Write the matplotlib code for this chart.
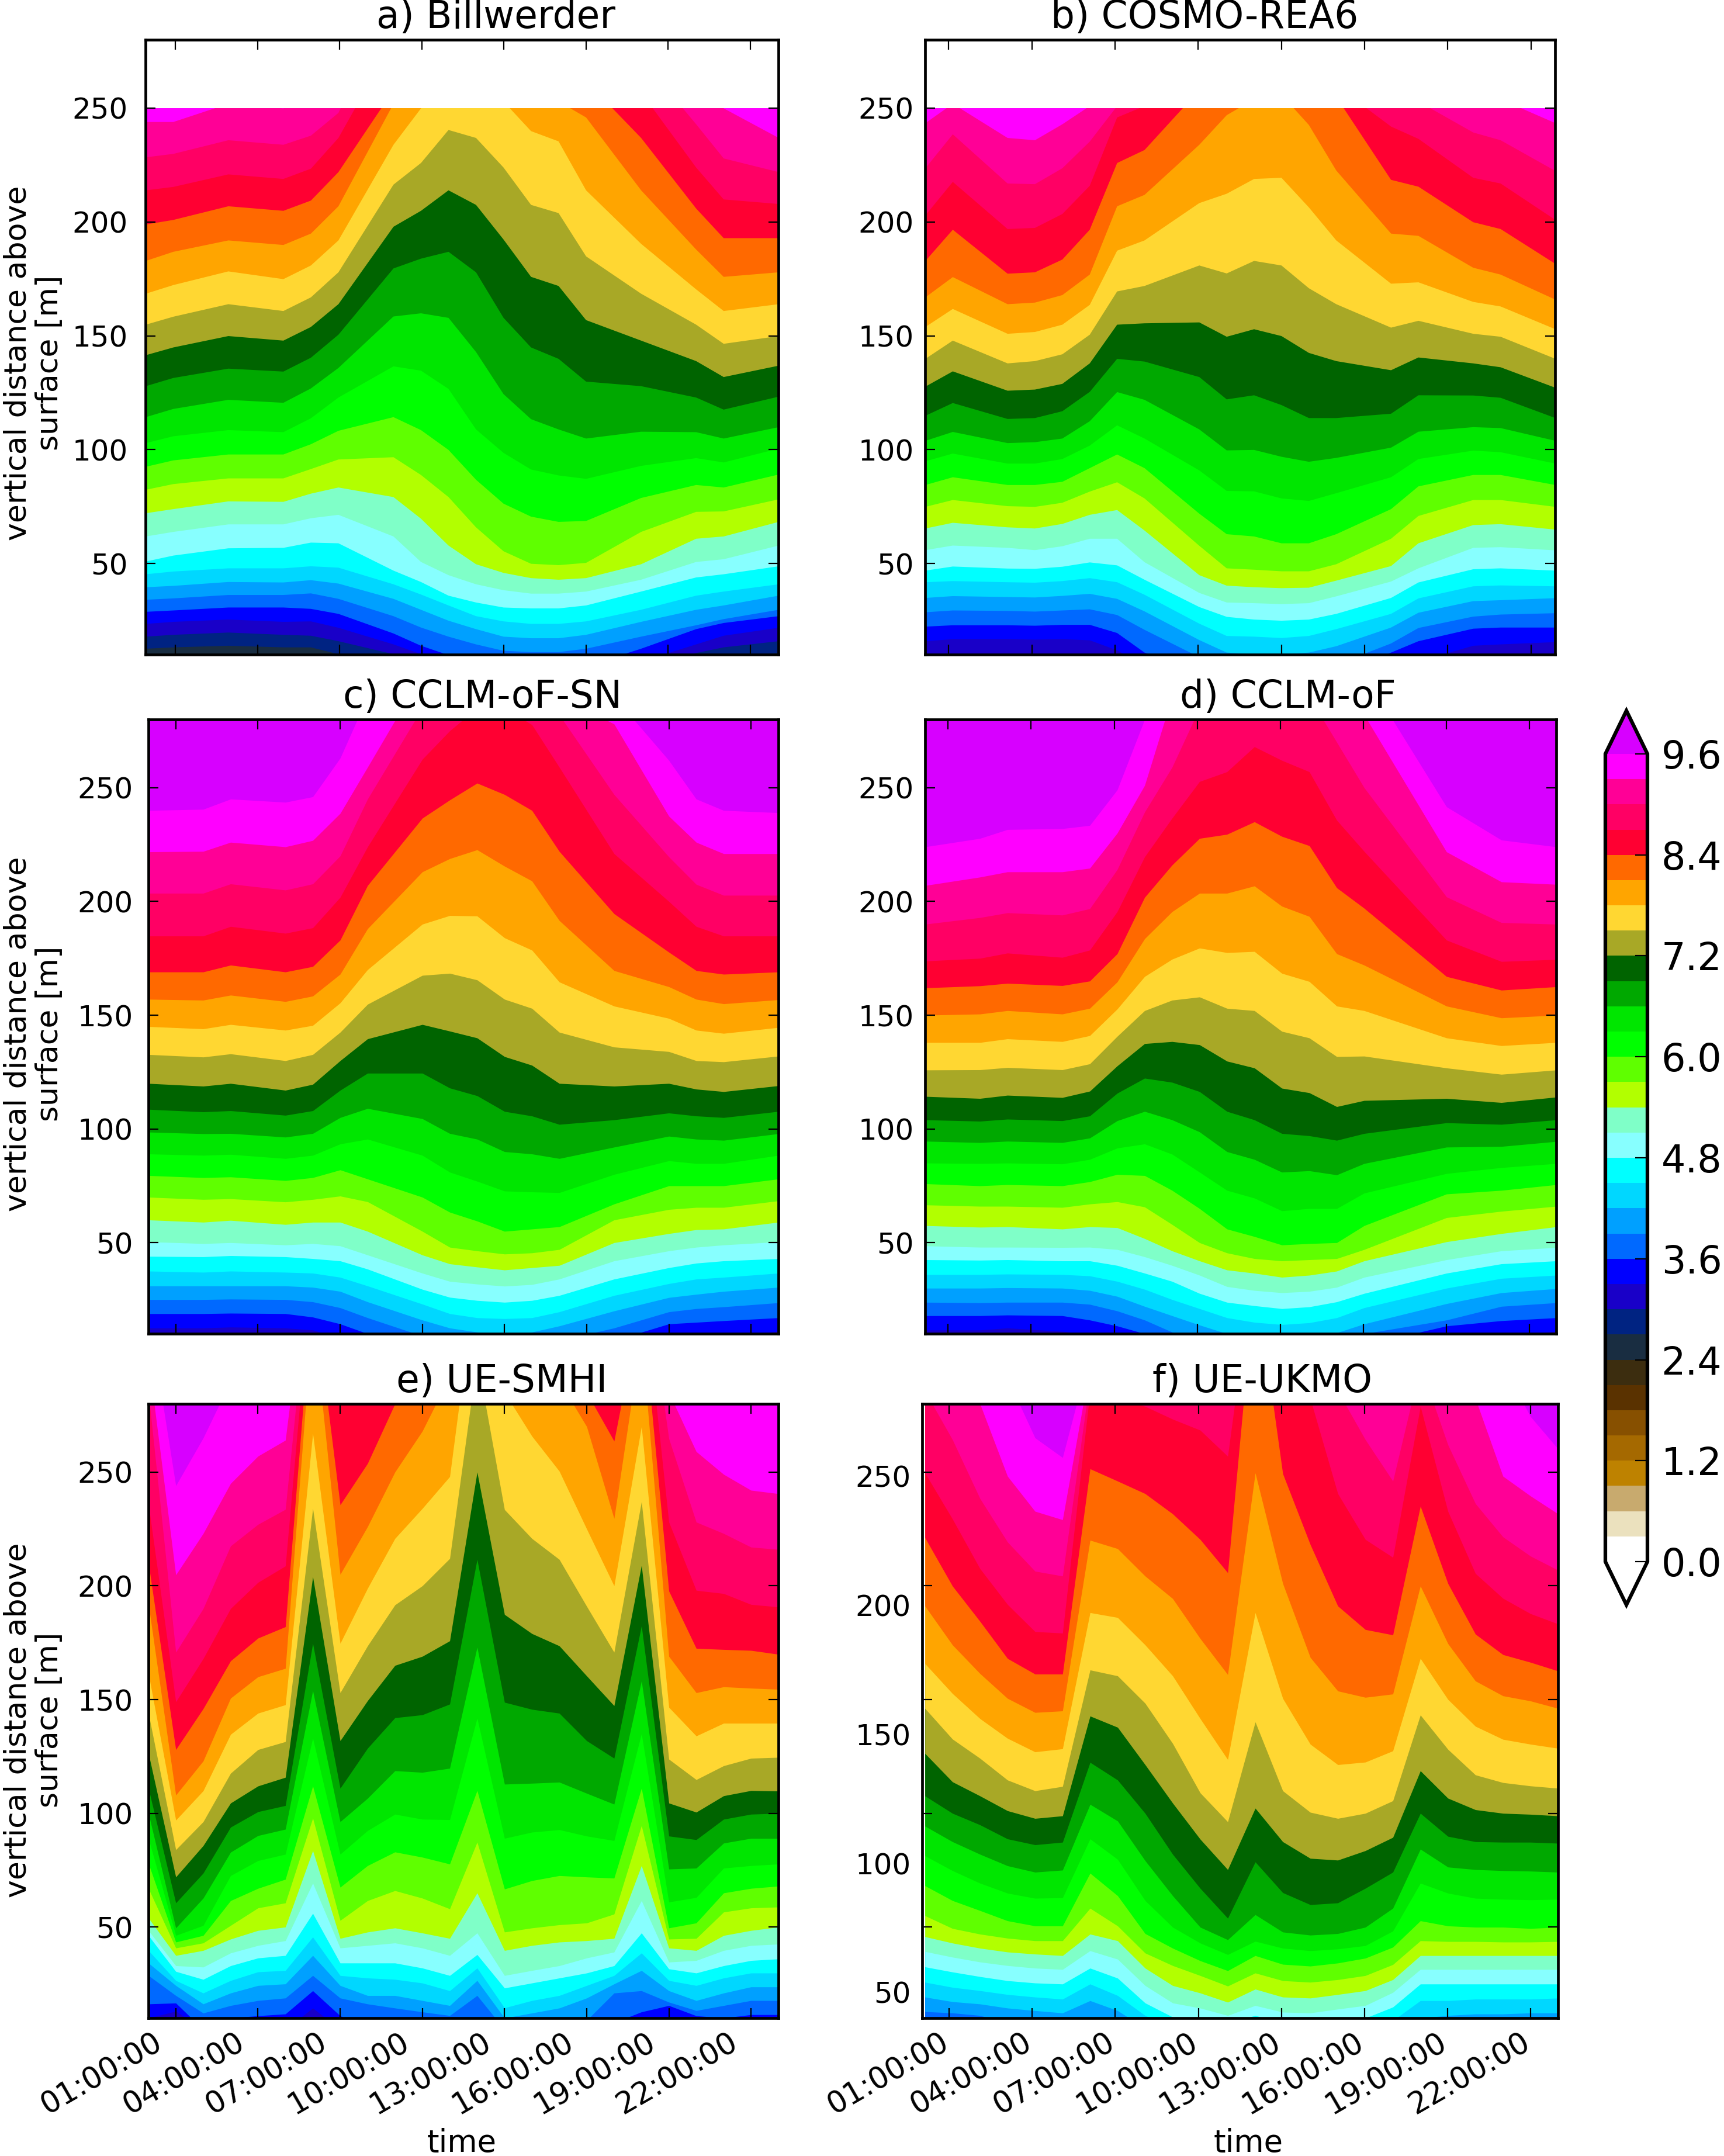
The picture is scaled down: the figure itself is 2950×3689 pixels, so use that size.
import numpy as np
import matplotlib
matplotlib.use('Agg')
import matplotlib.pyplot as plt
from matplotlib.colors import ListedColormap, BoundaryNorm
from matplotlib.colorbar import ColorbarBase
from matplotlib.patches import Rectangle
from matplotlib.transforms import ScaledTranslation

# wind speed classes of the colour bar (m/s)
cbar_levels = [round(0.3 * i, 1) for i in range(33)]
cbar_ticks = [0.0, 1.2, 2.4, 3.6, 4.8, 6.0, 7.2, 8.4, 9.6]
band_colors = ['#ffffff', '#ebe1be', '#c8aa6e', '#be8200', '#a56900', '#875000', '#5a3200', '#3c2d0f',
               '#192d41', '#002382', '#1900c8', '#0000ff', '#0069ff', '#00a0ff', '#00d7ff', '#00ffff',
               '#87ffff', '#7fffc8', '#b2ff00', '#5fff00', '#00ff00', '#00e600', '#00a800', '#006400',
               '#a8a826', '#ffd732', '#ffa500', '#ff6900', '#ff0032', '#ff0064', '#ff0096', '#ff00ff']
over_color = '#d700ff'

hour_labels = ['01:00:00', '04:00:00', '07:00:00', '10:00:00', '13:00:00', '16:00:00', '19:00:00', '22:00:00']
hour_ticks = [1, 4, 7, 10, 13, 16, 19, 22]
height_ticks = [50, 100, 150, 200, 250]

# height (m) of each isotach, one row per wind speed, one column per hour
a_hours = [0, 1, 3, 5, 6, 7, 9, 10, 11, 12, 13, 14, 15, 16, 18, 20, 21, 23]
a_first_level = 2.7
a_heights = [
    [12.7, 13.3, 14, 13.3, 13.3, 10.3, 7, 4, 2, 1, 1, 1, 1, 1, 2, 5, 9, 10.8],
    [18, 18.8, 19.8, 18.8, 18.4, 16, 10.3, 7, 4, 2, 1, 1, 1, 2, 4, 10.8, 13.3, 16],
    [23.6, 24.5, 25.5, 24.5, 24.7, 21.9, 14.6, 10.3, 7, 5, 4, 3.6, 3.6, 5, 7, 14.6, 18.4, 21.9],
    [28.9, 29.5, 30.8, 30.8, 30.2, 28, 19.4, 14, 9.9, 6, 4, 3, 3, 5, 12.7, 21.3, 24, 27],
    [34.2, 34.8, 36.3, 36.3, 37, 34.6, 27, 22, 18, 14.6, 11.8, 11.2, 11.2, 12.7, 18, 23, 25.7, 29.8],
    [39.7, 40.3, 42, 41.8, 42.8, 41.3, 34.6, 29.8, 25, 21.3, 18, 17.3, 17.3, 18.8, 24.5, 29.8, 31.7, 36],
    [45.4, 46.6, 48, 48, 48.9, 48.3, 41, 36.5, 31.7, 27, 24.7, 23.6, 23.6, 24.7, 29.8, 36, 37.8, 41],
    [51, 53.6, 56.8, 57, 59.3, 59, 47, 42, 36, 33, 30.8, 30.4, 30.4, 31.7, 37.8, 44, 45.4, 48.9],
    [62, 64, 67.3, 67.3, 70, 71.5, 62, 50.8, 45, 41, 38.4, 36.9, 36.9, 37.8, 43, 50.8, 52, 58],
    [72.2, 74, 77.4, 77.2, 80.8, 83.5, 79.3, 69.8, 58, 49.8, 46, 43.7, 43, 43.7, 49.8, 61, 62, 68.4],
    [82.5, 85, 87.5, 87.5, 91.6, 95.8, 96.8, 89, 79.3, 66, 55.5, 50, 49.4, 50.4, 64, 72.8, 73, 78.3],
    [92.6, 95.4, 98, 98, 102.5, 108.4, 114.4, 108.7, 100, 86.9, 76.4, 70.7, 68.4, 68.8, 78.9, 84.6, 83.5, 89.2],
    [103, 106, 108.7, 107.8, 113.9, 123, 136.7, 134.8, 126.8, 109, 98.7, 91.4, 88.8, 87.3, 93, 96.4, 94.5, 100.6],
    [114.4, 118, 122, 120.7, 127, 136, 158.6, 160, 158, 143, 124.5, 113.5, 109, 105, 108, 107.8, 105, 110],
    [128, 131.6, 135.7, 134.4, 140.5, 150.6, 179.7, 184, 187, 178, 158, 145, 140, 130, 128, 123, 117.7, 123.4],
    [141.6, 145, 150, 148, 154, 164, 198, 205, 214, 207.6, 192.4, 176, 172, 157, 148, 139, 132, 137],
    [155, 158.5, 164, 161, 167, 178, 216.5, 226, 240.5, 237, 224, 207.6, 204, 185, 168.6, 155, 146.6, 150],
    [168.6, 172.4, 178.4, 175, 181, 192, 234, 250, 260, 262, 253, 240, 235.5, 214, 190.5, 170.5, 161, 164],
    [183, 187, 192, 190, 195, 207, 252, 262, 268, 268, 262, 258, 253, 246, 214, 188, 176, 178],
    [199, 201, 207, 205, 209.5, 222, 258, 270, 275, 285, 280, 275, 270, 262, 237, 206, 193, 193],
    [214, 215.5, 221, 219, 223.5, 237, 280, 295, 300, 300, 295, 290, 282, 275, 257, 224, 210, 208],
    [228.5, 230, 236, 234, 238, 248, 300, 315, 320, 320, 315, 310, 305, 295, 272, 243, 228, 222],
    [244, 244, 252, 250, 256, 270, 320, 340, 350, 350, 345, 340, 335, 325, 300, 265, 250, 237],
]

b_hours = [0, 1, 3, 4, 5, 6, 7, 8, 10, 11, 12, 13, 14, 15, 17, 18, 20, 21, 23]
b_first_level = 3.3
b_heights = [
    [16, 16.9, 16.9, 16.7, 16.9, 16.4, 12, 5, 1, 1, 1, 1, 1, 1, 3, 7, 14, 14.6, 15.6],
    [22.4, 23, 23, 22.8, 23.2, 23.2, 19.6, 11, 3, 2, 1, 1, 1, 2, 11, 16, 21.5, 22, 22],
    [28.7, 29.5, 29.3, 29, 29.5, 30, 27.5, 21, 9, 5, 4, 4, 3.9, 5.7, 15, 21.8, 26.8, 27.7, 28.3],
    [35, 35.8, 35.4, 35.2, 35.9, 36.8, 34.6, 29.1, 16.5, 11, 10.2, 10.2, 11, 13.8, 22, 28.5, 33.6, 34, 34.9],
    [41.9, 42.4, 41.9, 41.7, 42.4, 43.7, 41.9, 36.4, 23.7, 18.3, 18, 17.4, 18.3, 21.3, 28, 34.8, 40.1, 40.5, 40.1],
    [47, 48.8, 47.9, 47.8, 48.7, 50.6, 49.3, 43, 31, 26.7, 25.5, 25, 25.5, 28, 35, 41.8, 47.6, 48, 47],
    [56, 58, 57, 56, 57.7, 61, 61, 50.7, 37.2, 33, 32.7, 32.3, 32.7, 35.7, 42.2, 48, 57, 57.3, 55.9],
    [65.5, 68, 66, 65.5, 67.5, 71.5, 73.6, 64.6, 45, 40.4, 39.7, 39.3, 39.5, 42.6, 49, 59, 67, 67.4, 65],
    [75, 78, 75.3, 75, 76.8, 81.7, 85.8, 78.7, 57.9, 48, 47.4, 46.7, 46.7, 49.8, 61, 71, 78, 78, 75],
    [84.6, 88, 84.6, 84.6, 86, 92, 98, 92, 72, 63, 62, 59, 59, 63, 74, 84, 89, 89, 84.6],
    [95, 98.4, 94, 94, 96, 101.9, 110.8, 105, 91, 82, 81.8, 78.7, 77.6, 81, 88, 96, 99.7, 99, 94],
    [104, 107.9, 103, 103.4, 105, 112.6, 125.4, 122, 109, 99.8, 100, 97, 94.8, 96.5, 101, 108, 110, 109.6, 104],
    [115, 120.6, 113.6, 114, 117, 125.5, 140, 138.8, 132, 122.2, 124, 119.7, 114, 114, 115.9, 124, 123.9, 122.9, 114],
    [127.8, 134.5, 126, 126.5, 129, 138, 155, 155.6, 156, 149.7, 153, 150, 142.6, 139, 135, 140.6, 138, 136.3, 127.3],
    [140, 148, 138, 139, 142, 150.6, 169.6, 172, 181, 177.5, 183, 181, 171, 164, 153.7, 156.7, 151, 149.7, 140],
    [154, 161.9, 151, 151.8, 155, 163.7, 187.5, 192, 208.4, 212.5, 219, 219.5, 206.5, 192, 173, 173.6, 165, 163, 153],
    [167, 175.9, 164, 164.7, 168, 177, 207, 212, 234, 247, 254, 256, 242.7, 222.7, 195, 194, 180, 177, 166],
    [183, 196.7, 177.4, 178, 183.6, 196.7, 226, 231.7, 258, 261, 264, 264, 262, 255, 218.6, 215.6, 200, 197, 181.7],
    [203, 217.7, 197, 197.5, 203.6, 216, 246, 251, 262, 265, 268, 268, 265, 260, 242, 236.6, 219.5, 217, 201],
    [223.7, 238.6, 217, 216.7, 223.7, 235.4, 251, 256, 268, 272, 275, 275, 272, 268, 258, 253, 239.4, 236, 222.5],
    [243.5, 252, 237, 236, 243, 251, 258, 264, 275, 278, 280, 280, 278, 275, 272, 268, 258, 254, 243.5],
]

c_hours = [0, 2, 3, 5, 6, 7, 8, 10, 11, 12, 13, 14, 15, 17, 19, 20, 21, 23]
c_first_level = 3.3
c_heights = [
    [12.5, 12.5, 12.9, 12.5, 11.6, 8, 5, 2, 2, 2, 2, 2, 2, 3, 7, 8, 9, 11],
    [18.8, 18.8, 19, 18.8, 17.3, 14.3, 10, 5, 4, 3, 3, 3, 3, 7, 14.3, 15, 15.7, 17],
    [25, 25, 25.2, 25, 24, 21.4, 17, 9, 7, 4.5, 4, 4.5, 7, 12.5, 19.6, 21, 21.8, 23.6],
    [31, 31, 31, 31, 30.4, 28.6, 24, 16, 12.5, 10.7, 10, 10.7, 13.4, 20, 25.9, 27.3, 28.6, 30.4],
    [37.5, 37, 37.5, 37, 36.6, 34.8, 31, 23, 18.8, 17, 16.6, 17, 19.6, 26.8, 32, 34, 34.8, 36.6],
    [44, 43.8, 44.3, 43.8, 43, 42, 38.4, 29.5, 26, 24.6, 23.8, 24.6, 26.8, 34, 39, 41, 42, 43],
    [50.4, 49.6, 50, 49, 49.6, 48.6, 44.6, 36.6, 33, 31.8, 30.9, 31.6, 34, 42, 46.4, 48, 49, 50.4],
    [60, 59, 59.8, 58, 59, 59, 55, 44.6, 40.7, 39.3, 38, 39, 40, 50, 54, 55.7, 56, 59],
    [70, 69, 69.3, 67.9, 69, 70.5, 68, 55, 48, 46.4, 45, 45.5, 47, 60, 64.6, 65.5, 65.5, 68.4],
    [79.5, 78.6, 78.9, 77.3, 78.6, 82, 78, 70, 63.4, 59.5, 55, 56, 57, 67, 75, 75, 75, 78],
    [89, 88.4, 88.8, 87, 88.4, 93.4, 95.5, 88.4, 81, 77, 72.7, 72.3, 72, 80, 86, 84.8, 84.8, 88.4],
    [98.6, 97.9, 98, 96.4, 98, 105, 109, 104.5, 98, 95.5, 90, 89, 87, 92, 96.8, 95.5, 95, 97.9],
    [108.6, 107.5, 108, 106, 108, 117, 124.5, 124.5, 118, 114.6, 107.7, 105.7, 102, 104, 107, 105.7, 105, 107.7],
    [120, 118.8, 120, 117, 119.6, 130, 139.6, 145.9, 143, 140, 131.8, 128, 120, 118.8, 120, 117.5, 116.4, 119],
    [132.7, 131.6, 133, 130, 132.7, 142.5, 154.8, 167.5, 168.4, 165.5, 157, 153, 142.5, 136, 134, 130, 129.5, 132],
    [145, 144, 145.9, 143.4, 145.5, 155.4, 170, 190, 193.8, 193.6, 184, 178.6, 164.6, 154, 148.6, 143.4, 142, 144.6],
    [157, 156.6, 158.8, 156, 158.4, 168, 188, 213, 218.8, 222.7, 215.5, 209, 191.6, 169.6, 162.5, 157, 155, 156.8],
    [169, 169, 172, 169, 171.4, 183, 207, 236.6, 244.6, 252, 247, 240, 222, 194.6, 177.7, 169.6, 168, 169],
    [184.8, 184.8, 189, 186, 188.4, 201.8, 224, 262.5, 275, 285, 285, 277.7, 259, 221, 200, 189, 184.8, 184.8],
    [203.6, 203.6, 207.7, 205, 207.7, 220, 245, 285, 295, 297, 292, 290, 282, 247, 219.6, 207.5, 202.7, 202.7],
    [221.8, 222, 226, 224, 226.8, 238.7, 259, 300, 310, 310, 310, 300, 290, 278, 237.5, 226, 221, 221],
    [240, 240.5, 245, 243.6, 246, 263, 290, 310, 320, 320, 320, 310, 300, 290, 262, 245, 240, 239],
]

d_hours = [0, 2, 3, 5, 6, 7, 8, 9, 10, 11, 12, 13, 14, 15, 16, 19, 21, 23]
d_first_level = 3.3
d_heights = [
    [11.6, 11.6, 12.5, 11, 9.8, 8, 5, 3, 2, 2, 2, 2, 2, 2, 3, 7, 9, 11],
    [17.9, 17.9, 18.2, 17.9, 16, 13.4, 10, 5, 3, 3, 3, 3, 3, 3, 5, 13.4, 15.7, 17],
    [23.8, 23.6, 23.8, 23.8, 22.9, 20, 16, 10.7, 5, 4, 4, 4, 4, 5, 10, 16, 22, 23.6],
    [30, 30, 30.2, 30, 29, 26.4, 22, 17.9, 13.8, 10, 9, 8, 8.5, 10.4, 14.3, 23.2, 28, 29.8],
    [36, 36, 36.2, 36, 35.4, 33, 29.5, 25, 21, 17, 15, 14, 14.8, 17, 21.4, 30, 34.3, 35.7],
    [42.5, 42.3, 42.5, 42, 42, 40, 36.6, 33, 27.7, 23.8, 22.3, 21, 21.8, 24, 27.7, 36.6, 40.7, 42],
    [48.6, 48, 48, 47.9, 48, 47, 43.8, 40, 35.7, 30.7, 29, 28, 28.6, 30.4, 34.8, 42.5, 46.4, 47.9],
    [57.5, 56.8, 57, 56, 57, 56.6, 51.8, 46.4, 42, 38, 36.6, 34.8, 35.7, 37.5, 42, 50.4, 54, 57],
    [66.6, 66, 66, 65.5, 67, 68, 65.7, 58, 50, 45.5, 43, 42, 42.5, 43, 47, 61, 63.8, 66],
    [75.9, 75, 75.5, 75, 76.8, 80, 79.5, 73, 65, 56, 52.7, 49, 49.6, 50, 57.5, 71.4, 73, 75.5],
    [85, 84.8, 85, 84.6, 86.6, 91.6, 93.4, 88.9, 81, 73, 69.6, 64, 65, 65, 71.8, 80.4, 83, 84.8],
    [94.6, 94, 94.6, 94, 96, 103.6, 107.7, 104, 98.7, 90, 86.6, 81, 81.6, 79.8, 84.8, 92, 92.3, 94.5],
    [104, 103.4, 104.3, 103.6, 105.7, 115.7, 122.3, 120.5, 116.4, 107.7, 104, 98, 97, 95, 98, 102.7, 102, 104],
    [114.3, 113.4, 114.8, 113.8, 116.6, 127.7, 137.5, 138.4, 137, 129.8, 126.8, 117.9, 115.9, 109.8, 112.5, 113.4, 111.6, 114],
    [125.9, 126, 127, 126, 128.6, 140.7, 152, 156.6, 158, 153, 152, 142.9, 140, 131.8, 132, 126.8, 124, 125.9],
    [138, 138, 139.6, 138.4, 141, 152.7, 167, 174.6, 179.5, 177.5, 178, 168.4, 164.8, 154, 152, 140, 136.6, 138],
    [150, 150.5, 152, 150.5, 153, 164.6, 183.6, 195.5, 203.6, 203.6, 206.8, 197.9, 193.4, 177, 172, 154, 148.8, 150],
    [162, 162.9, 164, 163, 165, 177, 201.8, 216, 227.7, 229.5, 235, 228.6, 224.5, 206, 197, 167, 161, 162.5],
    [173.8, 175, 177.3, 175.4, 178.6, 195.5, 219.6, 236.6, 252.7, 257, 268, 262, 257, 235.7, 222, 183, 173.6, 174.5],
    [190, 192.9, 195, 194, 196.8, 214, 239.3, 259, 285, 300, 305, 300, 290, 270, 250, 202, 190.7, 190],
    [207, 210.7, 213, 213, 214.6, 230, 251, 290, 300, 310, 315, 315, 310, 300, 282, 221.8, 208.6, 207.5],
    [224, 227.7, 231.6, 232, 233.4, 249, 280, 305, 310, 320, 325, 325, 320, 310, 300, 241.6, 227, 224],
]

e_hours = list(range(24))
e_first_level = 3.3
e_heights = [
    [10, 13, 5, 5, 5, 5, 14.4, 5, 5, 5, 5, 5, 5, 5, 5, 5, 5, 5, 5, 5, 5, 5, 5, 5],
    [16.2, 16.6, 5, 10, 11, 11.8, 22, 11, 5, 5, 5, 5, 10, 5, 5, 5, 5, 8, 12.7, 15.5, 11, 10, 11.5, 11.5],
    [28.7, 19.9, 12.2, 15.5, 17.7, 18.8, 28.7, 18.8, 16.2, 14.4, 12.7, 11.1, 19.9, 5, 5, 6, 9, 21, 22, 17, 13.3, 15.5, 17.7, 17.7],
    [34.2, 24.3, 16.2, 21, 24.3, 25, 37.5, 24.3, 19.9, 19.9, 17.7, 15.5, 26.5, 10, 12.2, 14.4, 18.8, 25, 30.9, 22, 17.7, 21, 23.7, 23.7],
    [39.7, 26.5, 21, 26.5, 30.3, 30.9, 45.6, 28.7, 27.6, 27, 25.4, 22, 32, 14.5, 17.7, 19.9, 24.3, 28.7, 38.6, 26.5, 24.3, 27.6, 29.8, 29.8],
    [46.3, 30.5, 27, 33, 36.4, 37.5, 56, 34.2, 34.2, 34.2, 32, 28.7, 37.9, 23.2, 25.4, 27.6, 29.8, 33, 47.4, 31.6, 29.8, 33, 35.3, 36],
    [48.5, 33, 32.4, 38.6, 41.9, 44, 69.3, 40.8, 41.9, 43, 40.8, 37.5, 47.4, 28.7, 30.9, 33, 36.4, 39, 61.6, 34.6, 35.3, 39.7, 41.9, 42.5],
    [54, 37.5, 39.7, 44.7, 48.5, 50, 83.6, 45, 47.8, 49.6, 47.4, 45, 65, 39.7, 41.9, 43.4, 44, 45, 77, 40.8, 39.7, 46.3, 48.5, 50],
    [67, 40.8, 43, 50.7, 58.4, 60.6, 97.9, 52.9, 61.6, 66, 62.7, 58, 87.3, 47.8, 49.6, 51, 51.8, 55.7, 94.6, 44.7, 45, 56.6, 58.4, 58.8],
    [78, 43.4, 46.3, 61.6, 67, 71, 112, 67.5, 77, 83, 80.7, 77.7, 110, 66.7, 70.4, 72.6, 72, 71.5, 111, 49.6, 51.8, 65, 67, 68],
    [89, 46.3, 50.7, 72.6, 79.2, 82, 133, 82, 92.4, 99.6, 97.4, 97.2, 141.8, 89, 91.7, 92.8, 90, 88, 135, 61, 63, 75.9, 77, 77.7],
    [100, 49.6, 62.7, 82.9, 90.2, 93, 153.9, 96.3, 106.6, 118.7, 118, 119.8, 173, 112.8, 113.2, 113.7, 108.8, 104, 158.2, 75.5, 75.9, 86.9, 89, 89],
    [111, 60.6, 73.7, 93.9, 100.7, 103.4, 174.7, 111, 128.6, 142, 143.3, 148, 211.6, 148.8, 145.7, 144, 131.9, 124.2, 182.4, 90, 88.4, 97.4, 99.6, 100],
    [126.4, 72, 85.8, 104.5, 112, 115.8, 204, 131.9, 149.5, 165, 169, 175.8, 250, 187.4, 179, 173.6, 160.4, 147.3, 209, 104.5, 100.5, 107.7, 110, 109.8],
    [144, 84, 96.3, 117.6, 128, 131.5, 234, 153, 173.6, 191.6, 200, 212, 300, 233.5, 220.8, 211.6, 191, 170.8, 237, 123.8, 114.8, 120.9, 124.2, 124.6],
    [161.5, 97, 109.9, 134.7, 144, 147.7, 267, 174.7, 198.9, 220.8, 234, 248, 340, 285, 265.8, 250.4, 225, 200, 270, 146.6, 134, 139.6, 139.6, 139.6],
    [192, 108, 123, 150.6, 160, 163.7, 320, 205, 226, 250, 268, 292, 350, 300, 295, 290, 270, 229.6, 310, 169, 153, 155.6, 155, 154.5],
    [210, 128, 146, 167, 177, 182, 332, 235.6, 253.8, 280, 295, 300, 360, 305, 300, 295, 285, 263.6, 325, 197.7, 172.5, 172, 171.6, 169.9],
    [236, 149, 168, 190, 201.5, 208.7, 344, 283, 300, 310, 310, 310, 370, 310, 310, 305, 300, 285, 340, 228, 198, 196.6, 191.8, 190.7],
    [285, 170.8, 190, 217.5, 227, 233.6, 352, 300, 310, 320, 320, 320, 380, 320, 320, 320, 310, 310, 350, 264.7, 228, 223, 217, 216],
    [300, 204.8, 223, 245, 257, 264, 360, 320, 330, 330, 330, 330, 390, 330, 330, 330, 330, 330, 360, 285, 259, 249, 242, 240.5],
    [320, 244, 265, 290, 310, 320, 370, 340, 340, 340, 340, 340, 400, 340, 340, 340, 340, 340, 370, 330, 310, 300, 300, 300],
]

f_hours = list(range(24))
f_first_level = 3.9
f_heights = [
    [42.5, 42, 41, 38, 38, 38, 40, 38, 32, 32, 32, 32, 32, 32, 32, 32, 32, 32, 38, 38, 38, 38, 38, 40.4],
    [48.2, 46.4, 45.5, 43.9, 42.9, 42, 46.8, 42.9, 36, 34, 34, 34, 34, 34, 34, 34, 34, 36, 40, 41, 41.6, 41.6, 42, 42],
    [54, 52, 50.7, 49.2, 48.2, 47.4, 53.3, 48.8, 41, 36, 36, 36, 36, 36, 36, 36, 36, 39, 46.8, 46.8, 47.4, 47.4, 47.4, 47.8],
    [60, 58, 56.2, 54.6, 53.7, 53.3, 59.5, 55.6, 45.9, 40.4, 39, 38, 41, 38, 38, 38, 40, 44.3, 53.3, 53.3, 53.3, 53.3, 53.3, 53.3],
    [66, 63.8, 61.9, 60.5, 59.5, 59, 66.3, 63, 52.7, 45.9, 43.9, 41, 44.9, 42.3, 42, 43.5, 44.9, 50, 59, 59, 59, 59, 59, 59],
    [71.8, 69.3, 67.3, 65.8, 65, 64.4, 72.8, 70.2, 59.5, 52.7, 49.8, 46.2, 51.3, 48.2, 47.8, 49.2, 50.7, 55, 64.4, 64.4, 64.4, 64.4, 64.4, 64.4],
    [80, 75, 72.8, 71.2, 70.2, 70.2, 82.9, 76, 65.4, 60.5, 56.6, 52.5, 57.6, 54.6, 54, 55, 56.6, 60.9, 70.2, 69.9, 69.9, 69.7, 69.7, 69.9],
    [91.7, 85.9, 82, 78, 76, 76, 96.6, 87.8, 73, 67.3, 62.4, 58.5, 64.4, 61, 60.3, 61.5, 63.4, 67.7, 78, 76, 75.5, 75.5, 75, 75.5],
    [103.4, 97.6, 92.7, 88.8, 86.8, 87, 110, 102, 85.9, 75.5, 69.3, 64.8, 70, 67.3, 66.3, 67, 68.3, 74, 92.7, 88.8, 86.8, 86.4, 86.2, 86.4],
    [115, 108.9, 104, 99.5, 97, 97.8, 123.5, 117, 101.5, 87.8, 75.5, 70.6, 80.4, 73.6, 72.4, 73, 75.5, 82.9, 106, 99, 98, 97.6, 97.4, 97],
    [126.8, 120, 115.5, 110, 107.7, 108.7, 139.9, 133, 120, 104, 90.7, 79, 101, 89, 84.3, 85, 90.7, 97, 120, 111, 108.9, 108.7, 108.7, 108.3],
    [143.4, 132.3, 126.8, 121, 118, 119, 158, 153.6, 139, 124, 109.9, 98, 122, 108.9, 102.4, 101.7, 105.4, 110.6, 136.6, 125.9, 121.4, 120, 119.6, 119],
    [161, 149, 141.5, 133, 128.8, 130.5, 176, 173.7, 163, 147.3, 128, 116.7, 155.7, 128.8, 120.4, 118, 120, 124.9, 158.4, 145, 135, 132, 130.7, 129.8],
    [178.5, 166.8, 157, 149.3, 144, 145.2, 198.4, 196.5, 185.8, 173.7, 157, 141, 198.4, 164.9, 147, 139, 140, 144.4, 180.5, 164.5, 154, 148.9, 147, 145.4],
    [201, 185.8, 174.6, 164.9, 159.4, 160, 226.7, 223.4, 212.7, 203.9, 188.3, 174.2, 253, 209.8, 180.9, 167.8, 165.3, 166.6, 208.8, 186.3, 171.7, 165.9, 163.9, 161],
    [227.7, 208.8, 195, 180.5, 174.4, 174.4, 254.6, 249.8, 244.9, 237, 227, 214, 330, 252.7, 225, 201, 191.8, 189.7, 240, 209.8, 190, 182, 179, 175.6],
    [253, 235, 215.6, 201.6, 191, 190.4, 285, 282, 279, 274, 269.7, 259.5, 340, 285, 282, 244.9, 227, 220, 279, 238, 213.7, 204, 198, 194],
    [285, 266, 243, 226, 214.6, 212.7, 290, 290, 290, 290, 290, 290, 350, 290, 285, 285, 266, 249.8, 295, 264, 241, 228, 220.5, 215],
    [300, 300, 280, 251.7, 238, 234.7, 295, 300, 300, 300, 300, 300, 360, 300, 300, 300, 300, 295, 310, 300, 282, 251.7, 244, 237],
    [310, 310, 305, 290, 266.7, 259, 300, 310, 310, 310, 310, 310, 370, 310, 310, 310, 310, 310, 320, 315, 310, 295, 275, 262.4],
]

titles = ['a) Billwerder', 'b) COSMO-REA6', 'c) CCLM-oF-SN', 'd) CCLM-oF', 'e) UE-SMHI', 'f) UE-UKMO']

FIG_W, FIG_H = 2950, 3689
YLABEL = 'vertical distance above\nsurface [m]'

fig = plt.figure(figsize=(FIG_W / 100, FIG_H / 100), dpi=100)
plt.rcParams['font.family'] = 'DejaVu Sans'


def box(left, right, top, bottom):
    # pixel edges of the picture to a figure rectangle
    return [left / FIG_W, 1 - bottom / FIG_H, (right - left) / FIG_W, (bottom - top) / FIG_H]


def draw_panel(title, hours, first_level, heights, edges, title_px, ylim=(10, 280), tick_ylim=(10, 280),
               label_ylim=None, xlim=(0, 23), tick_xlim=(0, 23), data_top=None, label_pad=19,
               ylabel_px=None, time_px=None, xlabel_shift=0):
    left, right, top, bottom = edges
    ax = fig.add_axes(box(*edges), frameon=False)

    first_band = int(round(first_level / 0.3)) - 1
    art = [ax.fill_between(hours, 0, 400, color=band_colors[first_band], linewidth=0)]
    for i, row in enumerate(heights):
        band = first_band + 1 + i
        color = band_colors[band] if band < len(band_colors) else over_color
        art.append(ax.fill_between(hours, row, 400, color=color, linewidth=0))
    if data_top is not None:
        # the tower data of these panels stop at this height
        clip = Rectangle((xlim[0], ylim[0]), xlim[1] - xlim[0], data_top - ylim[0], transform=ax.transData)
        for a in art:
            a.set_clip_path(clip)

    ax.set_xlim(*xlim)
    ax.set_ylim(*ylim)
    ax.set_xticks([])
    ax.set_yticks([])

    # the height numbers and the tick marks do not always agree with the data axes
    lax = fig.add_axes(box(*edges), frameon=False)
    lax.patch.set_visible(False)
    lax.set_ylim(*(label_ylim or ylim))
    lax.set_xticks([])
    lax.set_yticks(height_ticks)
    lax.tick_params(axis='y', length=0, pad=label_pad, labelsize=36)

    tax = fig.add_axes(box(*edges), zorder=3)
    tax.patch.set_visible(False)
    tax.set_xlim(*tick_xlim)
    tax.set_ylim(*tick_ylim)
    tax.set_xticks(hour_ticks)
    tax.set_yticks(height_ticks)
    tax.set_yticklabels([])
    tax.tick_params(which='both', direction='in', top=True, right=True, length=12, width=1.6)
    for spine in tax.spines.values():
        spine.set_linewidth(3.4)
    if time_px is None:
        tax.set_xticklabels([])
    else:
        tax.set_xticklabels(hour_labels, rotation=30, ha='right', fontsize=37)
        tax.tick_params(axis='x', pad=12)
        shift = ScaledTranslation(xlabel_shift / 100, 0, fig.dpi_scale_trans)
        for lab in tax.get_xticklabels():
            lab.set_transform(lab.get_transform() + shift)
        fig.text(time_px / FIG_W, 1 - 3667 / FIG_H, 'time', fontsize=38, ha='center', va='center')

    tax.set_title(title, x=(title_px - left) / (right - left), pad=14.5, fontsize=46.5)
    if ylabel_px is not None:
        fig.text(57 / FIG_W, 1 - ylabel_px / FIG_H, YLABEL, rotation=90, fontsize=37.5,
                 ha='center', va='center', multialignment='center', linespacing=1.1)


draw_panel(titles[0], a_hours, a_first_level, a_heights, (249, 1332, 68, 1120), 849,
           tick_xlim=(-0.09, 23.03), data_top=250, label_pad=22, ylabel_px=621)
draw_panel(titles[1], b_hours, b_first_level, b_heights, (1583, 2661, 68, 1120), 2061,
           tick_xlim=(0.15, 22.87), data_top=250, label_pad=14)
draw_panel(titles[2], c_hours, c_first_level, c_heights, (254, 1332, 1231, 2282), 826, ylabel_px=1769)
draw_panel(titles[3], d_hours, d_first_level, d_heights, (1583, 2663, 1231, 2282), 2204,
           tick_xlim=(0.17, 22.97), label_pad=14)
draw_panel(titles[4], e_hours, e_first_level, e_heights, (254, 1332, 2402, 3453), 859,
           ylabel_px=2943, time_px=790, xlabel_shift=-14)
draw_panel(titles[5], f_hours, f_first_level, f_heights, (1578, 2666, 2402, 3453), 2160,
           ylim=(40, 280), label_ylim=(40, 278), xlim=(-0.1, 23), tick_xlim=(0.02, 23), label_pad=14,
           time_px=2136, xlabel_shift=8)

# colour bar on the right, the box holds the two end triangles as well
cax = fig.add_axes(box(2747, 2819, 1216, 2746))
cmap = ListedColormap(band_colors)
cmap.set_under('#ffffff')
cmap.set_over(over_color)
norm = BoundaryNorm(cbar_levels, cmap.N)
cbar = ColorbarBase(cax, cmap=cmap, norm=norm, boundaries=[-0.3] + cbar_levels + [9.9], extend='both',
                    extendfrac=0.0535, ticks=cbar_ticks, spacing='proportional', drawedges=False)
cbar.ax.set_yticklabels(['%.1f' % t for t in cbar_ticks])
cbar.ax.tick_params(direction='in', length=15, width=1.6, pad=17, labelsize=47)
cbar.ax.minorticks_off()
cbar.outline.set_linewidth(4.5)

fig.savefig('out.png', dpi=100)
